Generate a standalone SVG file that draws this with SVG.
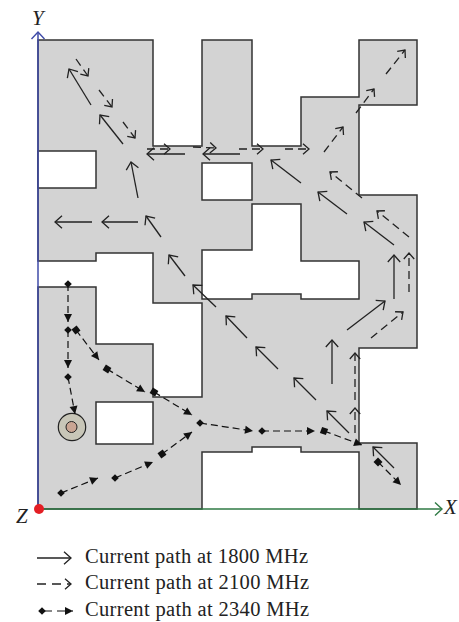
<svg xmlns="http://www.w3.org/2000/svg" width="459" height="622" viewBox="0 0 459 622">
<style>
.ant{fill:#d3d3d3;stroke:#333;stroke-width:1.5;stroke-linejoin:miter}
.hole{fill:#fff;stroke:#333;stroke-width:1.5}
.s{fill:none;stroke:#222;stroke-width:1.3;marker-end:url(#ch)}
.d{fill:none;stroke:#222;stroke-width:1.3;stroke-dasharray:8 5;marker-end:url(#ch2)}
.p{fill:none;stroke:#111;stroke-width:1.2;stroke-dasharray:7 4;marker-start:url(#dia);marker-end:url(#tri)}
.q{fill:none;stroke:#111;stroke-width:1.2;stroke-dasharray:7 4;marker-start:url(#sq);marker-end:url(#tri)}
text{font-family:"Liberation Serif","Times New Roman",serif;fill:#222}
.ax{font-size:21px;font-style:italic}
.lg{font-size:20.5px}
</style>
<defs>
<marker id="ch" markerUnits="userSpaceOnUse" markerWidth="16" markerHeight="16" refX="9" refY="8" orient="auto"><path d="M2 1.8 L9 8 L2 14.2" fill="none" stroke="#222" stroke-width="1.3"/></marker>
<marker id="ch2" markerUnits="userSpaceOnUse" markerWidth="16" markerHeight="16" refX="9" refY="8" orient="auto"><path d="M3 2.8 L9 8 L3 13.2" fill="none" stroke="#222" stroke-width="1.3"/></marker>
<marker id="tri" markerUnits="userSpaceOnUse" markerWidth="12" markerHeight="12" refX="9" refY="6" orient="auto"><path d="M1 2 L9 6 L1 10Z" fill="#111"/></marker>
<marker id="dia" markerUnits="userSpaceOnUse" markerWidth="10" markerHeight="10" refX="5" refY="5" orient="0"><path d="M5 1.2 L8.8 5 L5 8.8 L1.2 5Z" fill="#111"/></marker>
<marker id="sq" markerUnits="userSpaceOnUse" markerWidth="10" markerHeight="10" refX="5" refY="5" orient="auto"><path d="M1.8 1.8H8.2V8.2H1.8Z" fill="#111"/></marker>
<marker id="axb" markerUnits="userSpaceOnUse" markerWidth="18" markerHeight="18" refX="10" refY="9" orient="auto"><path d="M3 2.5 L10 9 L3 15.5" fill="none" stroke="#3f4ba8" stroke-width="1.4"/></marker>
<marker id="axg" markerUnits="userSpaceOnUse" markerWidth="18" markerHeight="18" refX="10" refY="9" orient="auto"><path d="M3 2.5 L10 9 L3 15.5" fill="none" stroke="#2f7a45" stroke-width="1.4"/></marker>
</defs>
<g id="antenna">
<path class="ant" d="M38 40H153V146H202V40H252V146H301V97H359V40H417V105H359V195H417V348H359V443H417V509H359V452H301V447H252V452H202V509H38V287H96V344H153V397H202V303H153V253H96V261H38Z"/>
<rect class="hole" x="38" y="151" width="58" height="37"/>
<rect class="hole" x="202" y="163" width="50" height="37"/>
<rect class="hole" x="96" y="402" width="57" height="42"/>
<path class="hole" d="M202 250H252V204H301V261H359V299H301V294H252V299H202Z"/>
</g>
<g id="feed">
<circle cx="72" cy="427" r="13.7" fill="#c8c6b8" stroke="#222" stroke-width="1.2"/>
<circle cx="71.5" cy="427" r="5.5" fill="#c9a593" stroke="#222" stroke-width="1"/>
</g>
<g id="axes">
<path d="M38 509V32" fill="none" stroke="#3f4ba8" stroke-width="1.5" marker-end="url(#axb)"/>
<path d="M38 509H442" fill="none" stroke="#2f7a45" stroke-width="1.5" marker-end="url(#axg)"/>
<circle cx="39" cy="509" r="5" fill="#e31e24"/>
<text class="ax" x="32" y="25">Y</text>
<text class="ax" x="444" y="514">X</text>
<text class="ax" x="16" y="523">Z</text>
</g>
<g id="connectors">
<g id="path-1800">
<path class="s" d="M91 105L69 69"/><path class="s" d="M123 144L100 115"/><path class="s" d="M138 198L131 162"/>
<path class="s" d="M138 222H102"/><path class="s" d="M92 222H55"/><path class="s" d="M161 237L146 216"/>
<path class="s" d="M185 276L169 255"/><path class="s" d="M185 154H147"/><path class="s" d="M240 154H203"/>
<path class="s" d="M301 183L271 160"/><path class="s" d="M347 214L318 192"/><path class="s" d="M394 245L364 222"/>
<path class="s" d="M394 299V255"/><path class="s" d="M347 330L385 301"/><path class="s" d="M332 384V340"/>
<path class="s" d="M349 433L327 411"/><path class="s" d="M316 400L294 378"/><path class="s" d="M278 369L256 347"/>
<path class="s" d="M247 338L226 316"/><path class="s" d="M216 307L193 285"/><path class="s" d="M394 468L373 447"/>
</g>
<g id="path-2100">
<path class="d" d="M76 59L88 76"/><path class="d" d="M99 90L112 107"/><path class="d" d="M123 122L135 138"/>
<path class="d" d="M147 149H170"/><path class="d" d="M193 147L216 148"/><path class="d" d="M239 149H263"/><path class="d" d="M285 149H309"/>
<path class="d" d="M386 74L405 50"/><path class="d" d="M356 113L374 89"/><path class="d" d="M324 152L343 127"/>
<path class="d" d="M362 198L330 172"/><path class="d" d="M409 237L377 211"/>
<path class="d" d="M409 292V253"/><path class="d" d="M371 338L403 312"/><path class="d" d="M355 400V353"/><path class="d" d="M355 433V408"/>
</g>
<g id="path-2340">
<path class="p" d="M68 284V322"/><path class="p" d="M68 330V368"/><path class="p" d="M68 377L75 414"/>
<path class="q" d="M76 330L99 360"/><path class="q" d="M107 369L145 392"/><path class="q" d="M154 392L192 415"/>
<path class="p" d="M200 423L253 431"/><path class="p" d="M262 431H315"/><path class="q" d="M324 431L362 445"/><path class="q" d="M378 462L401 485"/>
<path class="p" d="M61 493L98 478"/><path class="p" d="M115 478L153 462"/><path class="q" d="M162 454L192 432"/>
</g>
</g>
<g id="legend">
<path class="s" d="M37 558H71"/>
<path class="d" d="M37 584H71" style="stroke-dasharray:9 6"/>
<path class="p" d="M42 611H73" style="stroke-dasharray:10 5"/>
<text class="lg" x="85" y="563" textLength="223">Current path at 1800 MHz</text>
<text class="lg" x="85" y="589" textLength="224">Current path at 2100 MHz</text>
<text class="lg" x="85" y="616" textLength="224">Current path at 2340 MHz</text>
</g>
</svg>
